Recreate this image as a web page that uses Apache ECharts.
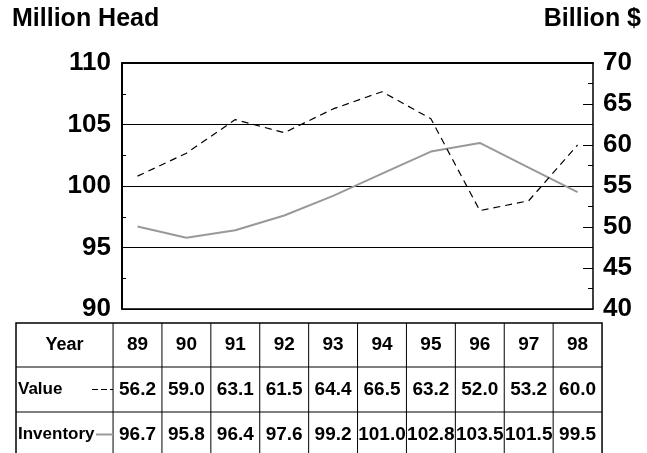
<!DOCTYPE html>
<html>
<head>
<meta charset="utf-8">
<script src="https://cdn.jsdelivr.net/npm/echarts@6/dist/echarts.min.js"></script>
<style>
html,body{margin:0;padding:0;background:#fff;}
#chart{width:647px;height:453px;}
</style>
</head>
<body>
<div id="chart"></div>
<script>
var years = ['89','90','91','92','93','94','95','96','97','98'];
var valueData = [56.2,59.0,63.1,61.5,64.4,66.5,63.2,52.0,53.2,60.0];
var inventoryData = [96.7,95.8,96.4,97.6,99.2,101.0,102.8,103.5,101.5,99.5];
var leftTitle = 'Million Head';
var rightTitle = 'Billion $';
var rowLabels = ['Year','Value','Inventory'];

var FONT = '"Liberation Sans", Arial, Helvetica, sans-serif';
var GRAY = '#999999';
var chart = echarts.init(document.getElementById('chart'), null, {renderer:'canvas'});

var option = {
  animation: false,
  backgroundColor: '#fff',
  grid: {left:122, right:54, top:63, bottom:144, show:false},
  xAxis: [
    {type:'value', min:88.683, max:98.315, position:'bottom',
     axisLine:{show:true, onZero:false, lineStyle:{color:'#000', width:1.5}},
     axisTick:{show:false}, axisLabel:{show:false}, splitLine:{show:false}},
    {type:'value', min:88.683, max:98.315, position:'top',
     axisLine:{show:true, onZero:false, lineStyle:{color:'#000', width:2}},
     axisTick:{show:false}, axisLabel:{show:false}, splitLine:{show:false}}
  ],
  yAxis: [
    {type:'value', min:90, max:110, interval:5, position:'left',
     axisLine:{show:true, lineStyle:{color:'#000', width:2}},
     axisTick:{show:true, inside:true, length:4, lineStyle:{color:'#000'}},
     minorTick:{show:true, splitNumber:2, length:4, lineStyle:{color:'#000'}},
     axisLabel:{fontFamily:FONT, fontWeight:'bold', fontSize:26, color:'#000', margin:11},
     splitLine:{show:true, lineStyle:{color:'#000', width:1}}},
    {type:'value', min:40, max:70, interval:5, position:'right',
     axisLine:{show:true, lineStyle:{color:'#000', width:1.5}},
     axisTick:{show:true, inside:true, length:10, lineStyle:{color:'#000'}},
     minorTick:{show:true, splitNumber:2, length:5, lineStyle:{color:'#000'}},
     axisLabel:{fontFamily:FONT, fontWeight:'bold', fontSize:26, color:'#000', margin:10},
     splitLine:{show:false}}
  ],
  series: [
    {name:'Inventory', type:'line', yAxisIndex:0, symbol:'none',
     lineStyle:{color:GRAY, width:2},
     data: years.map(function(y,i){return [Number(y), inventoryData[i]];})},
    {name:'Value', type:'line', yAxisIndex:1, symbol:'none',
     lineStyle:{color:'#000', width:1.2, type:[7,5]},
     data: years.map(function(y,i){return [Number(y), valueData[i]];})}
  ]
};
chart.setOption(option);

function px(x){ return chart.convertToPixel({gridIndex:0},[x, 100])[0]; }

var tTop = 323, rowH = [44, 45, 45];
var rowY = [tTop, tTop+rowH[0], tTop+rowH[0]+rowH[1], tTop+rowH[0]+rowH[1]+rowH[2]];
var tLeft = 16;
var colEdges = [tLeft];
years.forEach(function(y){ colEdges.push(px(Number(y)-0.5)); });
colEdges.push(px(Number(years[years.length-1])+0.5));
var tRight = colEdges[colEdges.length-1];

var g = [];
g.push({type:'text', left:12, top:7, style:{text:leftTitle, font:'bold 25px '+FONT, fill:'#000'}});
g.push({type:'text', right:6, top:7, style:{text:rightTitle, font:'bold 25px '+FONT, fill:'#000'}});
g.push({type:'rect', shape:{x:tLeft, y:tTop, width:tRight-tLeft, height:rowY[3]-tTop},
        style:{fill:'none', stroke:'#000', lineWidth:1.5}});
for (var r=1; r<3; r++) {
  g.push({type:'line', shape:{x1:tLeft, y1:rowY[r], x2:tRight, y2:rowY[r]}, style:{stroke:'#000', lineWidth:1}});
}
for (var c=1; c<colEdges.length-1; c++) {
  g.push({type:'line', shape:{x1:colEdges[c], y1:tTop, x2:colEdges[c], y2:rowY[3]}, style:{stroke:'#000', lineWidth:1}});
}
var numFont = 'bold 19px '+FONT;
var lblFont = 'bold 17px '+FONT;
function midY(r){ return (rowY[r]+rowY[r+1])/2; }
g.push({type:'text', x:(colEdges[0]+colEdges[1])/2, y:midY(0),
        style:{text:rowLabels[0], font:'bold 18px '+FONT, fill:'#000', align:'center', verticalAlign:'middle'}});
g.push({type:'text', x:18, y:midY(1), style:{text:rowLabels[1], font:lblFont, fill:'#000', align:'left', verticalAlign:'middle'}});
g.push({type:'text', x:18, y:midY(2), style:{text:rowLabels[2], font:lblFont, fill:'#000', align:'left', verticalAlign:'middle'}});
g.push({type:'line', shape:{x1:92, y1:midY(1), x2:colEdges[1], y2:midY(1)}, style:{stroke:'#000', lineWidth:1.2, lineDash:[6,3]}});
g.push({type:'line', shape:{x1:96, y1:midY(2), x2:colEdges[1], y2:midY(2)}, style:{stroke:GRAY, lineWidth:2}});
years.forEach(function(y,i){
  var cx = px(Number(y));
  g.push({type:'text', x:cx, y:midY(0), style:{text:y, font:numFont, fill:'#000', align:'center', verticalAlign:'middle'}});
  g.push({type:'text', x:cx, y:midY(1), style:{text:valueData[i].toFixed(1), font:numFont, fill:'#000', align:'center', verticalAlign:'middle'}});
  g.push({type:'text', x:cx, y:midY(2), style:{text:inventoryData[i].toFixed(1), font:numFont, fill:'#000', align:'center', verticalAlign:'middle'}});
});
chart.setOption({graphic: g});
</script>
</body>
</html>
